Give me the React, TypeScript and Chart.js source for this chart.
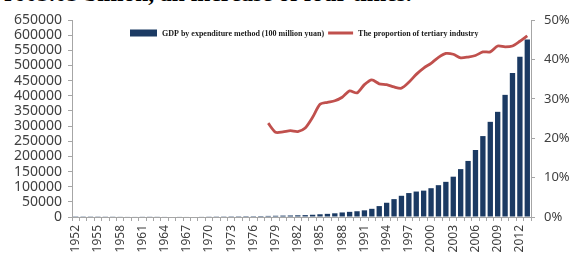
import React, { useEffect, useRef } from "react";
import { Chart, registerables } from "chart.js";

Chart.register(...registerables);

const years: string[] = [
  "1952","1953","1954","1955","1956","1957","1958","1959","1960","1961",
  "1962","1963","1964","1965","1966","1967","1968","1969","1970","1971",
  "1972","1973","1974","1975","1976","1977","1978","1979","1980","1981",
  "1982","1983","1984","1985","1986","1987","1988","1989","1990","1991",
  "1992","1993","1994","1995","1996","1997","1998","1999","2000","2001",
  "2002","2003","2004","2005","2006","2007","2008","2009","2010","2011",
  "2012","2013",
];

const shownYearLabels: string[] = [
  "1952","1955","1958","1961","1964","1967","1970","1973","1976","1979",
  "1982","1985","1988","1991","1994","1997","2000","2003","2006","2009","2012",
];

// GDP by expenditure method (100 million yuan)
const gdpValues: number[] = [
  700, 820, 860, 910, 1030, 1070, 1300, 1440, 1460, 1220,
  1150, 1230, 1450, 1720, 1870, 1770, 1720, 1940, 2250, 2430,
  2520, 2720, 2790, 3000, 2940, 3200, 3600, 4100, 4600, 5000,
  5600, 6200, 7400, 9000, 10400, 12200, 15000, 17000, 19000, 22000,
  27000, 36000, 47000, 59000, 70000, 79000, 84000, 87000, 95000, 105000,
  116000, 133000, 158000, 185000, 221000, 267000, 314000, 347000, 403000, 475000,
  529000, 586000,
];

// The proportion of tertiary industry (%)
const tertiaryShare: (number | null)[] = [
  null, null, null, null, null, null, null, null, null, null,
  null, null, null, null, null, null, null, null, null, null,
  null, null, null, null, null, null, 23.8, 21.5, 21.6, 21.9,
  21.7, 22.6, 25.3, 28.6, 29.1, 29.5, 30.4, 32.0, 31.5, 33.6,
  34.8, 33.8, 33.6, 33.0, 32.7, 34.2, 36.2, 37.8, 39.0, 40.5,
  41.5, 41.3, 40.4, 40.6, 41.0, 41.9, 41.9, 43.4, 43.2, 43.4,
  44.6, 46.0,
];

const leftTicks: number[] = [0, 50000, 100000, 150000, 200000, 250000, 300000, 350000, 400000, 450000, 500000, 550000, 600000, 650000];
const rightTicks: number[] = [0, 10, 20, 30, 40, 50];

const gdpLabel = "GDP by expenditure method (100 million yuan)";
const tertiaryLabel = "The proportion of tertiary industry";
const topText = "¥603.03 billion, an increase of four times.";

const BAR_COLOR = "#1b3a63";
const LINE_COLOR = "#c0504d";
const AXIS_COLOR = "#a6a6a6";
const TICK_COLOR = "#404040";
const TICK_FONT = "'Noto Sans', 'Open Sans', sans-serif";

const insideLegend = {
  id: "insideLegend",
  afterDraw(chart: any) {
    const ctx = chart.ctx as CanvasRenderingContext2D;
    const ds = chart.data.datasets;
    ctx.save();
    ctx.font = "bold 8px 'Liberation Serif', 'Times New Roman', serif";
    ctx.textBaseline = "middle";
    const cy = 33;
    let x = 130;
    ctx.fillStyle = BAR_COLOR;
    ctx.fillRect(x, cy - 3.5, 27, 7);
    x += 27 + 5;
    ctx.fillStyle = "#1a1a1a";
    ctx.fillText(ds[0].label, x, cy + 0.5);
    x += ctx.measureText(ds[0].label).width + 4;
    ctx.strokeStyle = LINE_COLOR;
    ctx.lineWidth = 3;
    ctx.beginPath();
    ctx.moveTo(x, cy);
    ctx.lineTo(x + 25, cy);
    ctx.stroke();
    x += 25 + 5;
    ctx.fillText(ds[1].label, x, cy + 0.5);
    ctx.restore();
  },
};

export default function App() {
  const canvasRef = useRef<HTMLCanvasElement | null>(null);

  useEffect(() => {
    document.body.style.margin = "0";
    document.body.style.background = "#ffffff";
    const canvas = canvasRef.current;
    if (!canvas) return;
    const chart = new Chart(canvas, {
      type: "bar",
      data: {
        labels: years,
        datasets: [
          {
            type: "bar",
            label: gdpLabel,
            data: gdpValues,
            backgroundColor: BAR_COLOR,
            borderWidth: 0,
            yAxisID: "y",
            order: 2,
            categoryPercentage: 0.9,
            barPercentage: 0.8,
          } as any,
          {
            type: "line",
            label: tertiaryLabel,
            data: tertiaryShare,
            borderColor: LINE_COLOR,
            backgroundColor: LINE_COLOR,
            borderWidth: 2.8,
            pointRadius: 0,
            tension: 0.25,
            spanGaps: false,
            yAxisID: "y1",
            order: 1,
          } as any,
        ],
      },
      options: {
        responsive: false,
        animation: false,
        devicePixelRatio: 1,
        layout: { padding: { top: 20, left: 0, right: 0, bottom: 0 } },
        plugins: {
          legend: { display: false },
          tooltip: { enabled: false },
        },
        scales: {
          x: {
            grid: {
              display: true,
              drawOnChartArea: false,
              drawTicks: true,
              tickLength: 4,
              color: AXIS_COLOR,
              offset: true,
            },
            border: { display: true, color: AXIS_COLOR, width: 1 },
            ticks: {
              autoSkip: false,
              maxRotation: 90,
              minRotation: 90,
              padding: 4,
              color: TICK_COLOR,
              font: { family: TICK_FONT, size: 12 },
              callback: (_v: any, i: number) =>
                shownYearLabels.includes(years[i]) ? years[i] : "",
            },
            afterFit: (s: any) => {
              s.height = 38;
            },
          },
          y: {
            position: "left",
            min: 0,
            max: 650000,
            afterBuildTicks: (s: any) => {
              s.ticks = leftTicks.map((v) => ({ value: v }));
            },
            grid: {
              display: true,
              drawOnChartArea: false,
              tickLength: 4,
              color: AXIS_COLOR,
            },
            border: { display: true, color: AXIS_COLOR, width: 1 },
            ticks: {
              autoSkip: false,
              padding: 6,
              color: TICK_COLOR,
              font: { family: TICK_FONT, size: 14 },
              callback: (v: any) => String(v),
            },
            afterFit: (s: any) => {
              s.width = 72;
            },
          },
          y1: {
            position: "right",
            min: 0,
            max: 50,
            afterBuildTicks: (s: any) => {
              s.ticks = rightTicks.map((v) => ({ value: v }));
            },
            grid: {
              display: true,
              drawOnChartArea: false,
              tickLength: 4,
              color: AXIS_COLOR,
            },
            border: { display: true, color: AXIS_COLOR, width: 1 },
            ticks: {
              autoSkip: false,
              padding: 9,
              color: TICK_COLOR,
              font: { family: TICK_FONT, size: 13 },
              callback: (v: any) => v + "%",
            },
            afterFit: (s: any) => {
              s.width = 40;
            },
          },
        },
      },
      plugins: [insideLegend],
    });
    return () => chart.destroy();
  }, []);

  return (
    <div style={{ position: "relative", width: 571, height: 255, overflow: "hidden", background: "#fff" }}>
      <div
        style={{
          position: "absolute",
          left: 2,
          top: -20,
          whiteSpace: "nowrap",
          fontFamily: "'Liberation Serif', 'Times New Roman', serif",
          fontWeight: "bold",
          fontSize: 23.5,
          lineHeight: "27px",
          color: "#000",
        }}
      >
        {topText}
      </div>
      <canvas ref={canvasRef} width={571} height={255} style={{ position: "absolute", left: 0, top: 0 }} />
    </div>
  );
}
